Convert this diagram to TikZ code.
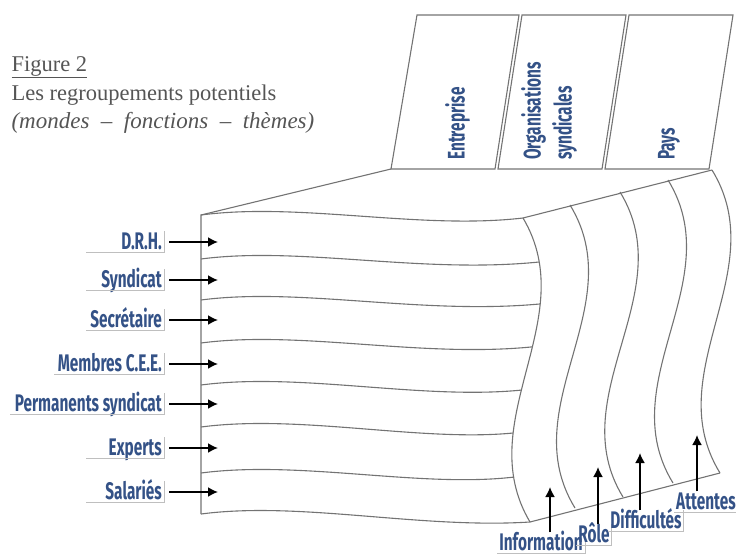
\documentclass[tikz,border=0pt]{standalone}
\usepackage{fontspec}
\usepackage{xcolor}
\usepackage{tikz}
\usetikzlibrary{arrows.meta}
\setmainfont{Liberation Serif}
\newfontfamily\labfont{Fira Sans}[FakeStretch=0.64]
\definecolor{labblue}{RGB}{52,82,135}
\definecolor{titlegray}{RGB}{85,85,85}
\definecolor{linegray}{RGB}{115,115,115}

\begin{document}
\begin{tikzpicture}[x=1pt,y=-1pt,
  edge/.style={linegray,line width=1.1pt},
  uline/.style={lightgray,line width=.6pt},
  lbl/.style={font=\labfont\bfseries\fontsize{24}{31}\selectfont,text=labblue,inner sep=2pt,text height=16pt,text depth=1pt},
  ttl/.style={anchor=base west,text=titlegray,font=\fontsize{22.5}{26}\selectfont},
  arr/.style={line width=1.8pt,-{Latex[length=10pt,width=10pt]}}]
\useasboundingbox (0,0) rectangle (736,557);

% titre
\node[ttl] (fig) at (8,71) {\underline{Figure 2}};
\node[ttl] (tit) at (8,100) {Les regroupements potentiels};
\node[ttl,font=\itshape\fontsize{23}{26}\selectfont] (sub) at (8,128) {(mondes\enspace--\enspace fonctions\enspace--\enspace thèmes)};

% panneaux du haut
\foreach \a/\b/\c/\d in {417/519/495/391, 522/626/602/498, 629/733/709/605}
  \draw[edge] (\a,15) -- (\b,15) -- (\c,169) -- (\d,169) -- cycle;
\node[lbl,rotate=90,anchor=west] (ent) at (457,162) {Entreprise};
\node[lbl,rotate=90,anchor=west,align=left] (org) at (564,162) {Organisations\\syndicales};
\node[lbl,rotate=90,anchor=west] (pays) at (667,162) {Pays};

% face du dessus
\draw[edge] (391,169) -- (201,215) -- (201,514);
\draw[edge] (523,218) -- (712,170);

% face de droite
\draw[edge] (523,218) .. controls (583,319) and (470,421) .. (530,522)
  coordinate[pos=0] (e0) coordinate[pos=.145] (e1) coordinate[pos=.283] (e2)
  coordinate[pos=.424] (e3) coordinate[pos=.566] (e4) coordinate[pos=.707] (e5)
  coordinate[pos=.852] (e6) coordinate[pos=1] (e7);
\foreach \xt/\yt/\xb/\yb in {570/205/575/508, 620/192/623/497, 668/180/673/483, 712/170/720/473}
  \draw[edge] (\xt,\yt) .. controls (\xt+62,\yt+101) and (\xb-62,\yb-101) .. (\xb,\yb);
\draw[edge] (e7) -- (720,473);

% lignes ondulees
\foreach \y/\i in {215/0,259/1,300/2,343/3,385/4,427/5,473/6,514/7}
  \draw[edge] (201,\y) .. controls (300,\y-13) and (420,\y+15) .. (e\i);

% mondes
\foreach \n/\t/\y/\w in {drh/D.R.H./242/78, syn/Syndicat/280/78, sec/Secrétaire/320/78,
    cee/Membres C.E.E./364/110, perm/Permanents syndicat/404/154, exp/Experts/448/78, sal/Salariés/492/78}{
  \node[lbl,anchor=east] (\n) at (164,\y) {\t};
  \coordinate (tip\n) at (218,\y);
  \draw[uline] (\n.north east) -- (\n.south east) -- ++(-\w,0);
  \draw[arr,shorten <=5pt] (\n) -- (tip\n);
}

% themes
\foreach \n/\t/\x/\y/\ax/\ay in {inf/Information/541/543/550/487, role/Rôle/594/535/598/467,
    dif/Difficultés/646/521/640/453, att/Attentes/706/502/697/435}{
  \node[lbl] (\n) at (\x,\y) {\t};
  \coordinate (tip\n) at (\ax,\ay);
  \draw[uline] (\n.south west) -- (\n.south east) -- (\n.north east);
  \draw[arr] (\n.north -| tip\n) -- (tip\n);
}
\end{tikzpicture}
\end{document}
